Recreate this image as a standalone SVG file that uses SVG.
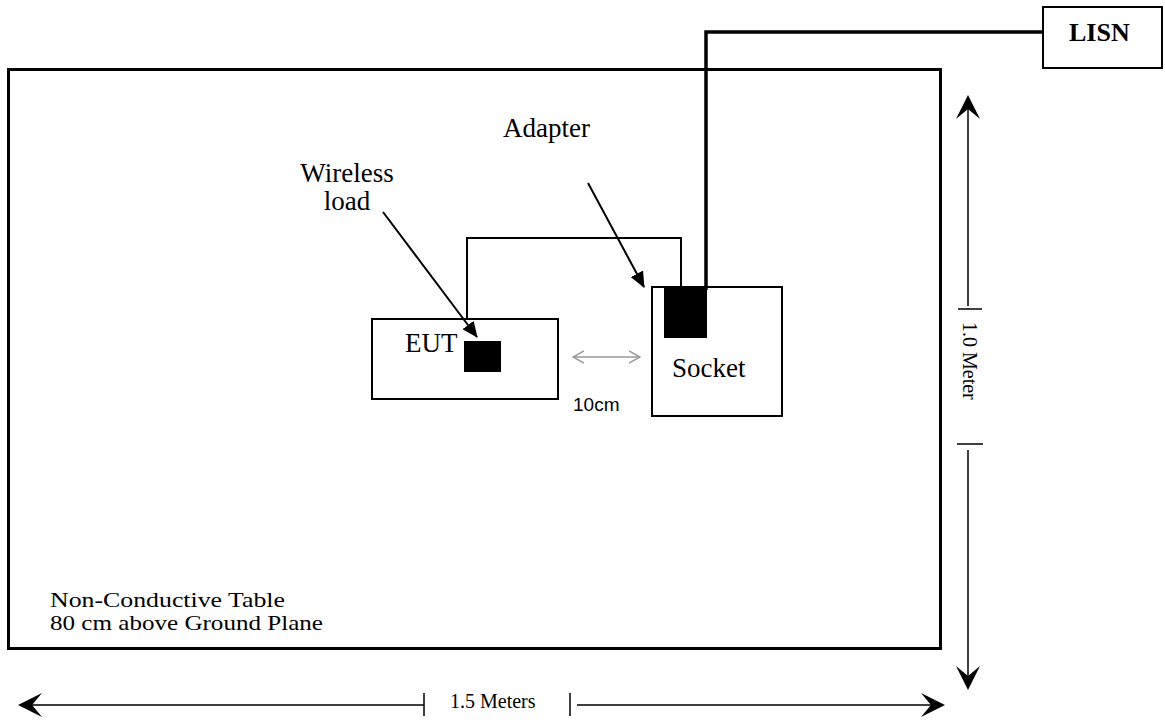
<svg xmlns="http://www.w3.org/2000/svg" width="1165" height="722" viewBox="0 0 1165 722">
<style>
.serif{font-family:"Liberation Serif","Times New Roman",serif;fill:#000}
.lbl{font-size:27px}
.dim{font-size:20px}
.tbl{font-size:22px}
.sans{font-family:"Liberation Sans",Arial,sans-serif;font-size:19px;fill:#000}
.box{fill:#fff;stroke:#000;stroke-width:2}
.wire{fill:none;stroke:#000;stroke-width:2}
.thick{fill:none;stroke:#000;stroke-width:3.5}
.dl{fill:none;stroke:#000;stroke-width:1.5}
</style>
<defs>
<marker id="tri" markerUnits="userSpaceOnUse" viewBox="0 0 16 14" refX="15" refY="7" markerWidth="16" markerHeight="14" orient="auto">
<path d="M0,0 L16,7 L0,14 Z" fill="#000"/>
</marker>
<marker id="chev" markerUnits="userSpaceOnUse" viewBox="0 0 12 14" refX="11" refY="7" markerWidth="12" markerHeight="14" orient="auto-start-reverse">
<path d="M0,1 L11,7 L0,13" fill="none" stroke="#999" stroke-width="1.5"/>
</marker>
<path id="barb" d="M0,0 L-24,-12 L-14,0 L-24,12 Z" fill="#000"/>
</defs>
<rect width="1165" height="722" fill="#fff"/>

<g id="table">
<rect x="8.5" y="69.5" width="932" height="579" fill="none" stroke="#000" stroke-width="3"/>
<text class="serif tbl" x="50" y="607" textLength="235" lengthAdjust="spacingAndGlyphs">Non-Conductive Table</text>
<text class="serif tbl" x="50" y="630" textLength="273" lengthAdjust="spacingAndGlyphs">80 cm above Ground Plane</text>
</g>

<g id="lisn">
<rect class="box" x="1043" y="7" width="119" height="61"/>
<text class="serif" x="1069" y="41" font-size="26" font-weight="bold">LISN</text>
</g>

<g id="eut">
<rect class="box" x="372" y="319" width="186" height="80"/>
<text class="serif lbl" x="405" y="352">EUT</text>
<rect x="464" y="341" width="37" height="31" fill="#000"/>
</g>

<g id="socket">
<rect class="box" x="652" y="287" width="130" height="129"/>
<text class="serif lbl" x="672" y="377">Socket</text>
</g>

<g id="adapter">
<rect x="664" y="287" width="43" height="51" fill="#000"/>
</g>

<g id="labels">
<text class="serif lbl" x="503" y="137">Adapter</text>
<text class="serif lbl" x="347" y="182" text-anchor="middle">Wireless</text>
<text class="serif lbl" x="347" y="210" text-anchor="middle">load</text>
<text class="sans" x="573" y="411">10cm</text>
</g>

<g id="connectors">
<polyline class="thick" points="1043,32 706,32 706,290"/>
<polyline class="wire" points="467,319 467,238 681,238 681,287"/>
<line x1="383" y1="212" x2="477" y2="337" stroke="#000" stroke-width="2" marker-end="url(#tri)"/>
<line x1="588" y1="183" x2="644" y2="287" stroke="#000" stroke-width="2" marker-end="url(#tri)"/>
<line x1="573" y1="357" x2="640" y2="357" stroke="#999" stroke-width="1.5" marker-start="url(#chev)" marker-end="url(#chev)"/>
</g>

<g id="dimensions">
<line class="dl" x1="28" y1="705" x2="424" y2="705"/>
<line class="dl" x1="424" y1="693" x2="424" y2="716"/>
<use href="#barb" transform="translate(18,705) rotate(180)"/>
<line class="dl" x1="577" y1="705" x2="935" y2="705"/>
<line class="dl" x1="570" y1="693" x2="570" y2="716"/>
<use href="#barb" transform="translate(945,705)"/>
<text class="serif dim" x="450" y="708">1.5 Meters</text>

<line class="dl" x1="968" y1="105" x2="968" y2="306"/>
<line class="dl" x1="958" y1="309" x2="982" y2="309"/>
<use href="#barb" transform="translate(968,95) rotate(-90)"/>
<line class="dl" x1="957" y1="444" x2="983" y2="444"/>
<line class="dl" x1="968" y1="450" x2="968" y2="680"/>
<use href="#barb" transform="translate(968,690) rotate(90)"/>
<text class="serif dim" transform="translate(963,322) rotate(90)">1.0 Meter</text>
</g>
</svg>
